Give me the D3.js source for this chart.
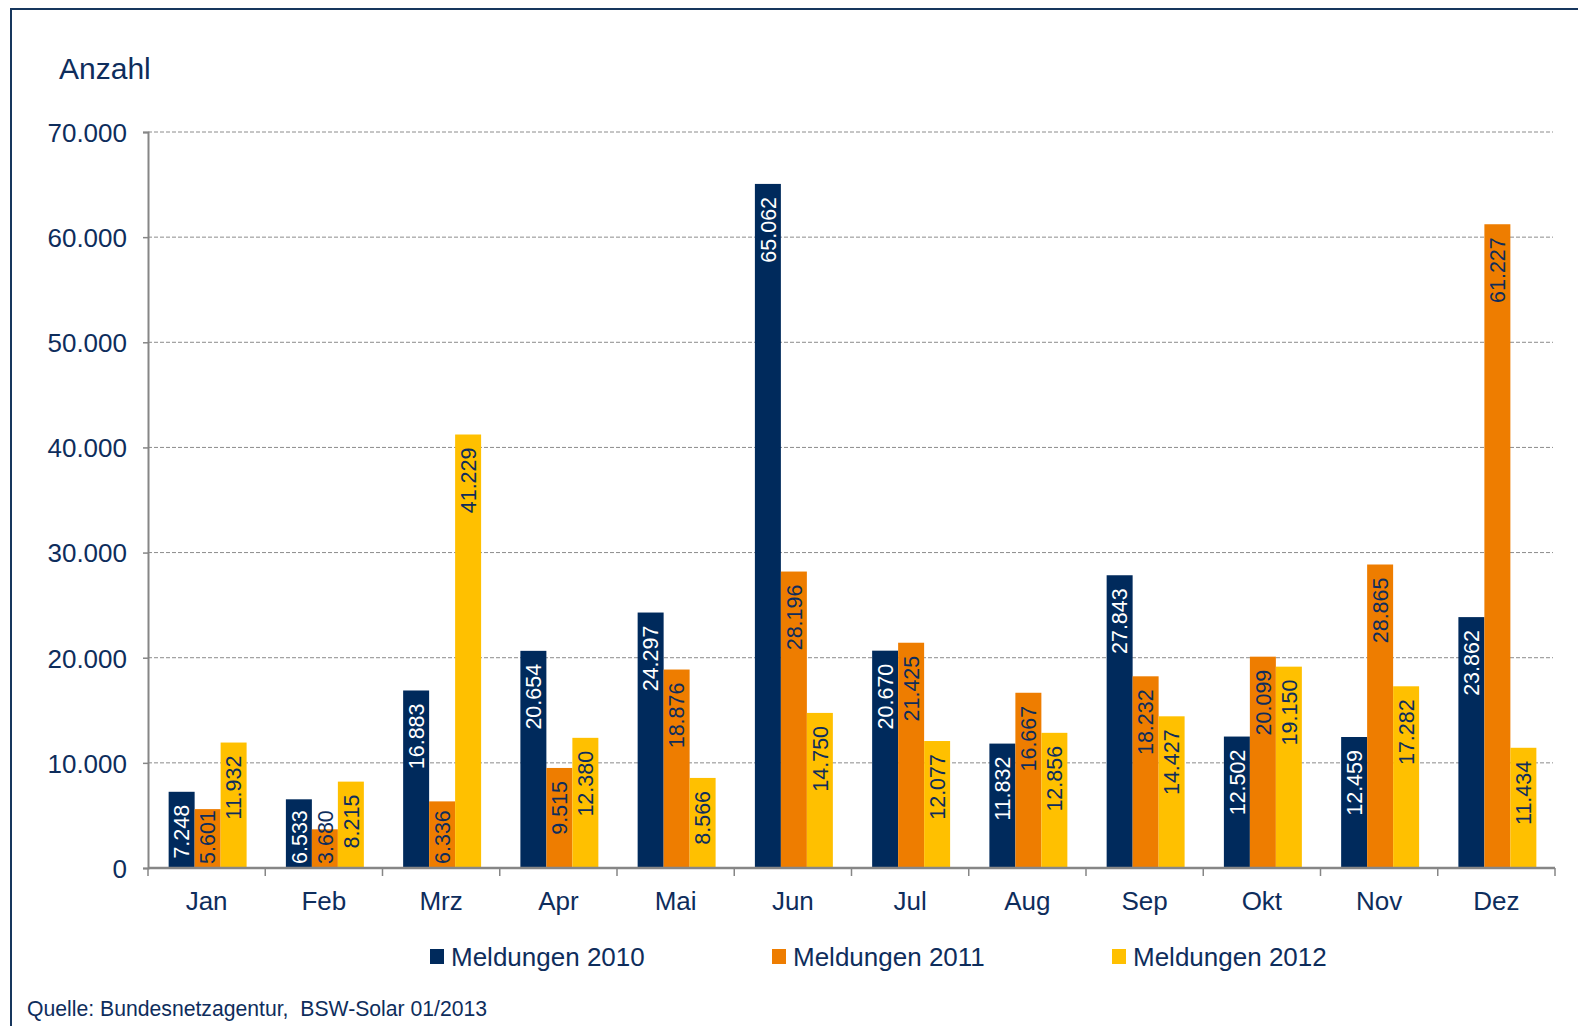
<!DOCTYPE html>
<html>
<head>
<meta charset="utf-8">
<script src="https://cdn.jsdelivr.net/npm/d3@7"></script>
<style>
  html, body { margin: 0; padding: 0; background: #fff; }
  svg { display: block; font-family: "Liberation Sans", Arial, sans-serif; }
</style>
</head>
<body>
<svg id="chart" width="1578" height="1026"></svg>
<script>
const months = ["Jan","Feb","Mrz","Apr","Mai","Jun","Jul","Aug","Sep","Okt","Nov","Dez"];
const seriesNames = ["Meldungen 2010","Meldungen 2011","Meldungen 2012"];
const values2010 = [7248, 6533, 16883, 20654, 24297, 65062, 20670, 11832, 27843, 12502, 12459, 23862];
const values2011 = [5601, 3680, 6336, 9515, 18876, 28196, 21425, 16667, 18232, 20099, 28865, 61227];
const values2012 = [11932, 8215, 41229, 12380, 8566, 14750, 12077, 12856, 14427, 19150, 17282, 11434];
const yTicks = [0, 10000, 20000, 30000, 40000, 50000, 60000, 70000];

(function () {
const colors = ["#002A5C", "#EE7D00", "#FFC000"];
const labelColors = ["#ffffff", "#0E2D5C", "#0E2D5C"];
const textColor = "#0E2D5C";

const series = [values2010, values2011, values2012];

const locale = d3.formatLocale({decimal: ",", thousands: ".", grouping: [3], currency: ["", " €"]});
const fmt = locale.format(",d");

const svg = d3.select("#chart");

// frame
svg.append("path")
  .attr("d", "M11,1026 L11,9 L1578,9")
  .attr("fill", "none").attr("stroke", "#17365D").attr("stroke-width", 2);

const pLeft = 148, pRight = 1555, pTop = 132, pBottom = 868;

const y = d3.scaleLinear().domain([0, 70000]).range([pBottom, pTop]);
const x0 = d3.scaleBand().domain(months).range([pLeft, pRight]).paddingInner(0).paddingOuter(0);
const groupW = x0.bandwidth() * 0.665;
const x1 = d3.scaleBand().domain([0,1,2]).range([0, groupW]).padding(0);
const groupOffset = (x0.bandwidth() - groupW) / 2 + 1;

// gridlines
svg.append("g").selectAll("line")
  .data(yTicks.filter(d => d > 0))
  .join("line")
  .attr("x1", pLeft).attr("x2", pRight - 2)
  .attr("y1", d => y(d)).attr("y2", d => y(d))
  .attr("stroke", "#8c8c8c").attr("stroke-width", 1)
  .attr("stroke-dasharray", "4,2");

// title
svg.append("text")
  .attr("x", 59).attr("y", 79)
  .attr("font-size", 30).attr("fill", textColor)
  .text("Anzahl");

// y axis
const yAxis = d3.axisLeft(y).tickValues(yTicks).tickSize(5).tickPadding(16)
  .tickFormat(d => fmt(d));
const gy = svg.append("g").attr("transform", `translate(${pLeft},0)`).call(yAxis);
gy.select(".domain").attr("stroke", "#868686").attr("stroke-width", 2);
gy.selectAll(".tick line").attr("stroke", "#868686").attr("stroke-width", 1.5);
gy.selectAll(".tick text")
  .attr("font-size", 26).attr("fill", textColor)
  .attr("font-family", "Liberation Sans, Arial, sans-serif")
  .attr("dy", "0.36em");

// bars
const groups = svg.append("g").selectAll("g")
  .data(months)
  .join("g")
  .attr("transform", d => `translate(${x0(d) + groupOffset},0)`);

groups.each(function(m, i) {
  const g = d3.select(this);
  series.forEach((vals, s) => {
    const v = vals[i];
    g.append("rect")
      .attr("x", x1(s))
      .attr("y", y(v))
      .attr("width", x1.bandwidth())
      .attr("height", y(0) - y(v))
      .attr("fill", colors[s]);
  });
});

// labels
groups.each(function(m, i) {
  const g = d3.select(this);
  series.forEach((vals, s) => {
    const v = vals[i];
    const t = g.append("text")
      .attr("font-size", 21.5)
      .attr("fill", labelColors[s])
      .attr("text-anchor", "start")
      .text(fmt(v));
    const len = t.node().getComputedTextLength();
    let endY = y(v) + 13;
    let startY = endY + len;
    if (startY > y(0) - 4) { startY = y(0) - 4; }
    const cx = x1(s) + x1.bandwidth() / 2;
    t.attr("transform", `translate(${cx + 7.7},${startY}) rotate(-90)`);
  });
});

// x axis
svg.append("line")
  .attr("x1", pLeft).attr("x2", pRight)
  .attr("y1", pBottom).attr("y2", pBottom)
  .attr("stroke", "#868686").attr("stroke-width", 2.5);
const boundaries = months.map(m => x0(m)).concat([pRight]);
svg.append("g").selectAll("line")
  .data(boundaries)
  .join("line")
  .attr("x1", d => d).attr("x2", d => d)
  .attr("y1", pBottom).attr("y2", pBottom + 8)
  .attr("stroke", "#868686").attr("stroke-width", 1.5);
svg.append("g").selectAll("text")
  .data(months)
  .join("text")
  .attr("x", d => x0(d) + x0.bandwidth() / 2)
  .attr("y", 910)
  .attr("text-anchor", "middle")
  .attr("font-size", 26).attr("fill", textColor)
  .text(d => d);

// legend
const legendX = [430, 772, 1112];
const leg = svg.append("g").selectAll("g")
  .data(seriesNames)
  .join("g");
leg.append("rect")
  .attr("x", (d, i) => legendX[i]).attr("y", 949)
  .attr("width", 14).attr("height", 15)
  .attr("fill", (d, i) => colors[i]);
leg.append("text")
  .attr("x", (d, i) => legendX[i] + 21).attr("y", 966)
  .attr("font-size", 26).attr("fill", textColor)
  .text(d => d);

// source
svg.append("text")
  .attr("x", 27).attr("y", 1016)
  .attr("font-size", 21.2).attr("fill", textColor)
  .attr("xml:space", "preserve")
  .style("white-space", "pre")
  .text("Quelle: Bundesnetzagentur,  BSW-Solar 01/2013");
})();
</script>
</body>
</html>
